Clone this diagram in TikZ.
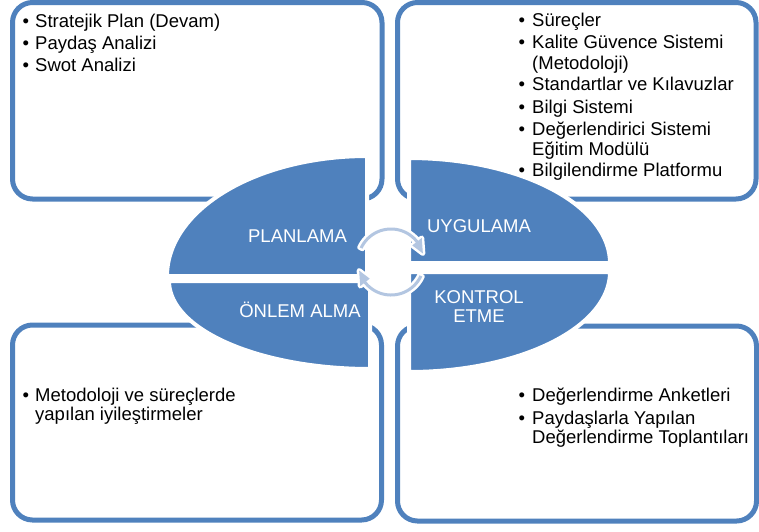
\documentclass[tikz,border=0pt]{standalone}
\usepackage{fontspec}
\setmainfont{Liberation Sans}
\definecolor{boxblue}{HTML}{4F81BD}
\definecolor{arrowblue}{HTML}{B3C6E1}
\begin{document}
\begin{tikzpicture}[x=1pt,y=-1pt,
  panel/.style={draw=boxblue, line width=5pt, fill=white, rounded corners=20pt},
  quad/.style={fill=boxblue, draw=white, line width=4pt, line join=round},
  item/.style={anchor=base west, inner sep=0pt, text=black, font=\fontsize{18.5}{22}\selectfont},
  lab/.style={anchor=base, inner sep=0pt, text=white, font=\fontsize{18.5}{22}\selectfont},
  cyc/.style={fill=arrowblue, preaction={draw=white, line width=5pt, line join=round}}]
\useasboundingbox (0,0) rectangle (759,531);

% panels
\path[panel] (12.5,2.5) rectangle (382,199);
\path[panel] (397.5,2.5) rectangle (756,199);
\path[panel] (12.5,325) rectangle (381.5,520);
\path[panel] (397.5,326) rectangle (756.5,521);

% top-left text
\node[item] (tlb1) at (22.5,27.3) {•};
\node[item] (tl1) at (35,27.3) {Stratejik Plan (Devam)};
\node[item] (tlb2) at (22.5,49.5) {•};
\node[item] (tl2) at (35,49.5) {Paydaş Analizi};
\node[item] (tlb3) at (22.5,71.7) {•};
\node[item] (tl3) at (35,71.7) {Swot Analizi};

% top-right text
\node[item] (trb1) at (518.5,26.7) {•};
\node[item] (tr1) at (532,26.7) {Süreçler};
\node[item] (trb2) at (518.5,48.7) {•};
\node[item] (tr2) at (532,48.7) {Kalite Güvence Sistemi};
\node[item] (tr2b) at (532,69) {(Metodoloji)};
\node[item] (trb3) at (518.5,90.7) {•};
\node[item] (tr3) at (532,90.7) {Standartlar ve Kılavuzlar};
\node[item] (trb4) at (518.5,113) {•};
\node[item] (tr4) at (532,113) {Bilgi Sistemi};
\node[item] (trb5) at (518.5,135.5) {•};
\node[item] (tr5) at (532,135.5) {Değerlendirici Sistemi};
\node[item] (tr5b) at (532,155) {Eğitim Modülü};
\node[item] (trb6) at (518.5,176.7) {•};
\node[item] (tr6) at (532,176.7) {Bilgilendirme Platformu};

% bottom-left text
\node[item] (blb1) at (22.5,401) {•};
\node[item] (bl1) at (35,401) {Metodoloji ve süreçlerde};
\node[item] (bl1b) at (35,420) {yapılan iyileştirmeler};

% bottom-right text
\node[item] (brb1) at (518.5,401) {•};
\node[item] (br1) at (532,401) {Değerlendirme Anketleri};
\node[item] (brb2) at (518.5,424) {•};
\node[item] (br2) at (532,424) {Paydaşlarla Yapılan};
\node[item] (br2b) at (532,443) {Değerlendirme Toplantıları};

% central quadrants
\path[quad] (367,276) -- plot[domain=180:270, samples=60] ({367+200*cos(\x)},{276+120*sin(\x)}) -- cycle;
\path[quad] (409,263) -- plot[domain=270:360, samples=60] ({409+201*cos(\x)},{263+105*sin(\x)}) -- cycle;
\path[quad] (409,272) -- plot[domain=0:90, samples=60] ({409+201*cos(\x)},{272+100*sin(\x)}) -- cycle;
\path[quad] (370,281) -- plot[domain=90:180, samples=60] ({370+201*cos(\x)},{281+88*sin(\x)}) -- cycle;

% circular arrows
\path[cyc] plot[domain=205:322, samples=40] ({391+34.5*cos(\x)},{262+34.5*sin(\x)})
  -- ({391+39*cos(322)},{262+39*sin(322)})
  -- ({391+33*cos(345)},{262+33*sin(345)})
  -- ({391+27*cos(322)},{262+27*sin(322)})
  -- plot[domain=322:205, samples=40] ({391+31.5*cos(\x)},{262+31.5*sin(\x)}) -- cycle;
\path[cyc] plot[domain=25:142, samples=40] ({391+34.5*cos(\x)},{262+34.5*sin(\x)})
  -- ({391+39*cos(142)},{262+39*sin(142)})
  -- ({391+33*cos(165)},{262+33*sin(165)})
  -- ({391+27*cos(142)},{262+27*sin(142)})
  -- plot[domain=142:25, samples=40] ({391+31.5*cos(\x)},{262+31.5*sin(\x)}) -- cycle;

% labels
\node[lab] (plan) at (297.5,242) {PLANLAMA};
\node[lab] (uyg) at (479,232) {UYGULAMA};
\node[lab] (onlem) at (300,317) {ÖNLEM ALMA};
\node[lab] (kon1) at (479,303) {KONTROL};
\node[lab] (kon2) at (479,322) {ETME};
\end{tikzpicture}
\end{document}
